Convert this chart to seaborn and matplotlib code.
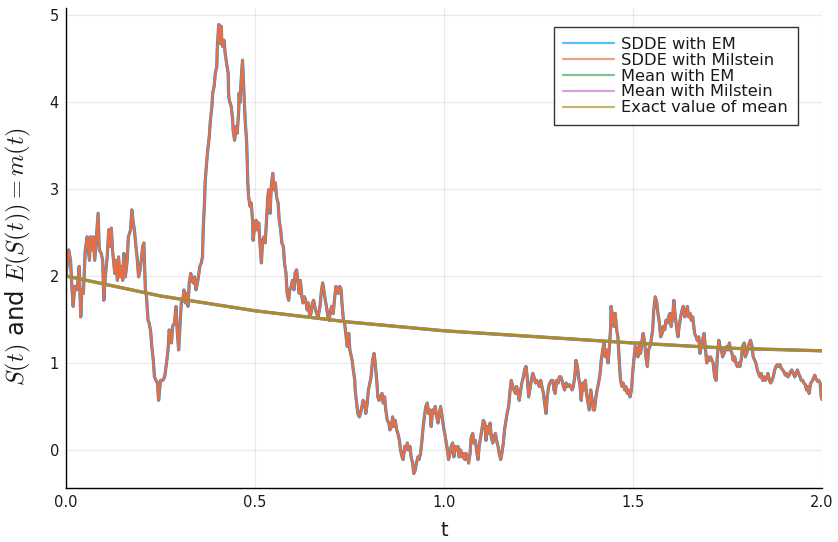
import matplotlib
matplotlib.use("Agg")
import matplotlib.pyplot as plt
import pandas as pd
import seaborn as sns

# Sample path of S(t), read in six consecutive time windows
t_seg1 = [0.000, 0.007, 0.012, 0.016, 0.019, 0.023, 0.028, 0.032, 0.035, 0.039,
          0.042, 0.046, 0.051, 0.056, 0.062, 0.065, 0.069, 0.072, 0.076, 0.081,
          0.085, 0.088, 0.093, 0.097, 0.100, 0.104, 0.109, 0.113, 0.116, 0.120,
          0.123, 0.129, 0.132, 0.136, 0.139, 0.143, 0.146, 0.150, 0.153, 0.157,
          0.162, 0.165, 0.171, 0.174, 0.178, 0.181, 0.185, 0.188, 0.192, 0.196,
          0.199, 0.203, 0.206, 0.210, 0.213, 0.217, 0.220, 0.224, 0.227, 0.231,
          0.234, 0.238, 0.242, 0.245, 0.250, 0.256, 0.261, 0.266, 0.270, 0.273,
          0.279, 0.282, 0.287, 0.291, 0.294, 0.298, 0.302, 0.305, 0.309, 0.312,
          0.316, 0.319, 0.323, 0.326, 0.330, 0.333, 0.337, 0.340, 0.344, 0.349]
s_seg1 = [2.00, 2.30, 2.18, 1.84, 1.65, 1.88, 1.84, 1.95, 2.11, 1.53,
          1.84, 1.80, 2.30, 2.45, 2.18, 2.45, 2.30, 2.45, 2.18, 2.49,
          2.72, 2.30, 2.26, 2.18, 1.72, 1.99, 2.22, 2.53, 2.34, 2.55,
          2.30, 2.03, 2.18, 1.95, 2.22, 1.99, 2.11, 1.95, 2.26, 1.99,
          2.18, 2.45, 2.53, 2.76, 2.61, 2.53, 2.34, 2.22, 1.99, 2.07,
          2.18, 2.34, 2.38, 1.84, 1.76, 1.49, 1.46, 1.36, 1.19, 1.03,
          0.84, 0.80, 0.77, 0.57, 0.80, 0.80, 0.84, 1.00, 1.15, 1.38,
          1.23, 1.42, 1.46, 1.65, 1.38, 1.15, 1.46, 1.69, 1.72, 1.84,
          1.69, 1.80, 1.65, 1.92, 2.03, 1.95, 1.92, 1.99, 1.84, 1.95]

t_seg2 = [0.354, 0.358, 0.361, 0.363, 0.367, 0.368, 0.372, 0.375, 0.379, 0.382,
          0.386, 0.388, 0.392, 0.395, 0.399, 0.400, 0.402, 0.404, 0.407, 0.409,
          0.411, 0.412, 0.414, 0.418, 0.421, 0.425, 0.429, 0.430, 0.432, 0.437,
          0.441, 0.442, 0.446, 0.450, 0.453, 0.457, 0.458, 0.460, 0.464, 0.467,
          0.471, 0.474, 0.478, 0.481, 0.483, 0.487, 0.490, 0.494, 0.495, 0.499,
          0.503, 0.506, 0.510, 0.513, 0.517, 0.520, 0.524, 0.527, 0.531, 0.534,
          0.536, 0.540, 0.543, 0.547, 0.550, 0.554, 0.557, 0.561, 0.564, 0.568,
          0.571, 0.575, 0.578, 0.582, 0.585, 0.589, 0.592, 0.596, 0.599, 0.603,
          0.606, 0.610, 0.613, 0.617, 0.620, 0.624, 0.627, 0.631, 0.634, 0.638,
          0.641, 0.645, 0.648, 0.652, 0.655, 0.660, 0.663, 0.667]
s_seg2 = [2.11, 2.15, 2.22, 2.53, 2.91, 3.07, 3.30, 3.45, 3.60, 3.79,
          3.95, 4.10, 4.18, 4.33, 4.41, 4.60, 4.75, 4.89, 4.87, 4.67,
          4.87, 4.71, 4.64, 4.71, 4.56, 4.44, 4.33, 4.10, 4.02, 3.95,
          3.79, 3.68, 3.56, 3.72, 3.64, 3.91, 4.10, 3.99, 4.29, 4.48,
          4.10, 3.79, 3.53, 3.07, 2.91, 2.80, 2.84, 2.61, 2.41, 2.57,
          2.64, 2.53, 2.61, 2.38, 2.15, 2.41, 2.45, 2.38, 2.68, 2.91,
          2.99, 2.72, 3.03, 3.18, 2.99, 3.07, 2.91, 2.84, 2.64, 2.53,
          2.38, 2.34, 2.15, 2.03, 1.80, 1.72, 1.84, 1.88, 1.95, 1.84,
          2.03, 2.07, 1.95, 1.80, 1.95, 1.76, 1.69, 1.76, 1.72, 1.61,
          1.69, 1.53, 1.57, 1.69, 1.72, 1.61, 1.57, 1.53]

t_seg3 = [0.672, 0.675, 0.679, 0.682, 0.686, 0.689, 0.693, 0.696, 0.700, 0.703,
          0.707, 0.710, 0.714, 0.717, 0.721, 0.724, 0.728, 0.730, 0.734, 0.737,
          0.741, 0.744, 0.748, 0.751, 0.753, 0.757, 0.760, 0.764, 0.765, 0.769,
          0.772, 0.776, 0.779, 0.783, 0.786, 0.790, 0.793, 0.797, 0.800, 0.804,
          0.807, 0.811, 0.815, 0.818, 0.822, 0.825, 0.828, 0.832, 0.836, 0.839,
          0.843, 0.846, 0.850, 0.854, 0.857, 0.861, 0.864, 0.868, 0.871, 0.875,
          0.878, 0.882, 0.885, 0.889, 0.892, 0.896, 0.899, 0.903, 0.906, 0.910,
          0.913, 0.917, 0.920, 0.924, 0.927, 0.931, 0.934, 0.938, 0.941, 0.945,
          0.948, 0.952, 0.956, 0.959, 0.963, 0.966, 0.970, 0.973, 0.977, 0.981,
          0.984, 0.988, 0.991, 0.995, 1.000]
s_seg3 = [1.65, 1.80, 1.92, 1.84, 1.72, 1.65, 1.53, 1.49, 1.61, 1.65,
          1.57, 1.72, 1.88, 1.84, 1.80, 1.88, 1.84, 1.69, 1.49, 1.46,
          1.30, 1.19, 1.34, 1.15, 1.11, 1.03, 0.92, 0.80, 0.69, 0.54,
          0.42, 0.38, 0.42, 0.50, 0.57, 0.54, 0.42, 0.54, 0.69, 0.77,
          0.84, 1.03, 1.11, 1.00, 0.80, 0.61, 0.57, 0.61, 0.65, 0.54,
          0.61, 0.46, 0.34, 0.31, 0.23, 0.27, 0.38, 0.27, 0.34, 0.23,
          0.19, 0.11, 0.00, -0.08, -0.11, 0.04, 0.00, 0.08, 0.00, 0.04,
          -0.08, -0.15, -0.27, -0.23, -0.15, -0.08, -0.11, -0.04, 0.08, 0.27,
          0.38, 0.50, 0.54, 0.42, 0.46, 0.27, 0.46, 0.42, 0.50, 0.38,
          0.31, 0.42, 0.50, 0.38, 0.23]

t_seg4 = [1.002, 1.005, 1.009, 1.012, 1.016, 1.019, 1.023, 1.026, 1.030, 1.034,
          1.037, 1.040, 1.044, 1.048, 1.051, 1.055, 1.058, 1.062, 1.065, 1.069,
          1.072, 1.076, 1.079, 1.083, 1.086, 1.090, 1.093, 1.097, 1.100, 1.104,
          1.108, 1.111, 1.115, 1.118, 1.122, 1.125, 1.129, 1.132, 1.136, 1.139,
          1.143, 1.146, 1.150, 1.153, 1.157, 1.160, 1.164, 1.167, 1.171, 1.175,
          1.178, 1.182, 1.185, 1.189, 1.192, 1.196, 1.199, 1.203, 1.206, 1.210,
          1.213, 1.217, 1.220, 1.224, 1.227, 1.231, 1.235, 1.238, 1.242, 1.245,
          1.249, 1.252, 1.256, 1.259, 1.263, 1.266, 1.270, 1.273, 1.277, 1.280,
          1.284, 1.288, 1.291, 1.294, 1.298, 1.302, 1.305, 1.309, 1.312, 1.316,
          1.319, 1.323, 1.328]
s_seg4 = [0.19, 0.11, 0.00, -0.11, -0.04, 0.04, 0.08, -0.08, 0.04, 0.00,
          0.04, -0.08, 0.00, -0.08, -0.04, -0.11, -0.04, -0.08, -0.15, -0.04,
          0.15, 0.19, 0.08, 0.11, 0.00, -0.11, 0.04, 0.15, 0.23, 0.34,
          0.31, 0.11, 0.27, 0.19, 0.31, 0.15, 0.08, 0.15, 0.19, 0.11,
          0.04, -0.04, -0.11, -0.04, 0.08, 0.23, 0.34, 0.42, 0.50, 0.69,
          0.80, 0.73, 0.69, 0.65, 0.73, 0.65, 0.57, 0.69, 0.77, 0.84,
          0.92, 0.96, 0.84, 0.61, 0.69, 0.80, 0.88, 0.84, 0.77, 0.80,
          0.77, 0.73, 0.80, 0.73, 0.65, 0.54, 0.42, 0.61, 0.73, 0.77,
          0.80, 0.80, 0.69, 0.65, 0.80, 0.77, 0.84, 0.84, 0.80, 0.73,
          0.69, 0.77, 0.73]

t_seg5 = [1.332, 1.335, 1.339, 1.342, 1.346, 1.349, 1.353, 1.356, 1.360, 1.363,
          1.367, 1.370, 1.374, 1.377, 1.381, 1.384, 1.388, 1.391, 1.395, 1.398,
          1.402, 1.405, 1.409, 1.413, 1.416, 1.420, 1.423, 1.427, 1.430, 1.434,
          1.437, 1.441, 1.442, 1.446, 1.450, 1.453, 1.457, 1.460, 1.464, 1.467,
          1.471, 1.474, 1.478, 1.481, 1.485, 1.488, 1.492, 1.496, 1.499, 1.503,
          1.506, 1.510, 1.513, 1.517, 1.520, 1.524, 1.527, 1.531, 1.534, 1.538,
          1.541, 1.545, 1.548, 1.552, 1.555, 1.559, 1.563, 1.566, 1.570, 1.573,
          1.577, 1.580, 1.584, 1.587, 1.591, 1.594, 1.598, 1.601, 1.605, 1.608,
          1.612, 1.615, 1.619, 1.622, 1.626, 1.630, 1.633, 1.637, 1.640, 1.644,
          1.647, 1.651, 1.654, 1.658, 1.661]
s_seg5 = [0.75, 0.73, 0.69, 0.73, 0.84, 1.03, 0.96, 0.84, 0.73, 0.57,
          0.77, 0.69, 0.80, 0.65, 0.54, 0.46, 0.69, 0.61, 0.46, 0.46,
          0.61, 0.69, 0.77, 0.88, 1.03, 1.15, 1.23, 1.07, 1.15, 1.00,
          1.15, 1.42, 1.65, 1.53, 1.42, 1.57, 1.38, 1.30, 1.00, 0.80,
          0.73, 0.77, 0.69, 0.73, 0.65, 0.69, 0.61, 0.69, 0.88, 1.07,
          1.19, 1.15, 1.07, 1.23, 1.11, 1.26, 1.34, 1.23, 1.07, 0.96,
          1.15, 1.19, 1.26, 1.38, 1.61, 1.76, 1.69, 1.57, 1.46, 1.30,
          1.34, 1.42, 1.38, 1.49, 1.46, 1.53, 1.57, 1.42, 1.53, 1.72,
          1.53, 1.42, 1.30, 1.42, 1.53, 1.61, 1.65, 1.53, 1.57, 1.65,
          1.53, 1.57, 1.49, 1.53, 1.42]

t_seg6 = [1.663, 1.667, 1.670, 1.674, 1.677, 1.681, 1.684, 1.688, 1.691, 1.695,
          1.698, 1.702, 1.705, 1.709, 1.712, 1.716, 1.720, 1.723, 1.727, 1.730,
          1.734, 1.737, 1.741, 1.744, 1.748, 1.751, 1.755, 1.758, 1.762, 1.765,
          1.769, 1.772, 1.776, 1.779, 1.783, 1.786, 1.790, 1.794, 1.797, 1.801,
          1.804, 1.808, 1.811, 1.815, 1.818, 1.822, 1.825, 1.829, 1.832, 1.836,
          1.839, 1.843, 1.847, 1.850, 1.854, 1.857, 1.861, 1.864, 1.868, 1.871,
          1.875, 1.878, 1.882, 1.885, 1.889, 1.892, 1.896, 1.899, 1.903, 1.906,
          1.910, 1.913, 1.917, 1.920, 1.924, 1.928, 1.931, 1.935, 1.938, 1.942,
          1.945, 1.949, 1.952, 1.956, 1.959, 1.963, 1.966, 1.970, 1.974, 1.977,
          1.981, 1.984, 1.988, 1.991, 1.995, 1.998, 2.000]
s_seg6 = [1.34, 1.30, 1.26, 1.30, 1.11, 1.19, 1.26, 1.34, 1.19, 1.00,
          1.07, 1.03, 1.07, 1.03, 1.00, 0.84, 0.80, 1.07, 1.26, 1.19,
          1.15, 1.07, 1.11, 1.15, 1.19, 1.15, 1.23, 1.15, 1.11, 1.03,
          1.07, 1.00, 0.96, 1.00, 0.96, 1.03, 1.19, 1.23, 1.07, 1.11,
          1.19, 1.23, 1.26, 1.19, 1.07, 1.03, 1.00, 0.92, 0.88, 0.84,
          0.88, 0.80, 0.84, 0.80, 0.84, 0.88, 0.80, 0.77, 0.80, 0.84,
          0.92, 0.96, 0.98, 0.96, 0.98, 0.94, 0.92, 0.90, 0.86, 0.88,
          0.84, 0.86, 0.90, 0.92, 0.88, 0.84, 0.88, 0.92, 0.88, 0.84,
          0.80, 0.80, 0.77, 0.75, 0.69, 0.73, 0.65, 0.77, 0.79, 0.82,
          0.86, 0.82, 0.79, 0.80, 0.77, 0.61, 0.58]

# Mean m(t) = E(S(t))
t_mean = [0.00, 0.25, 0.50, 0.75, 1.00, 1.25, 1.50, 1.75, 2.00]
m_exact = [2.00, 1.77, 1.60, 1.47, 1.37, 1.30, 1.23, 1.17, 1.14]

x_ticks = [0.0, 0.5, 1.0, 1.5, 2.0]
y_ticks = [0, 1, 2, 3, 4, 5]

t_path = t_seg1 + t_seg2 + t_seg3 + t_seg4 + t_seg5 + t_seg6
s_path = s_seg1 + s_seg2 + s_seg3 + s_seg4 + s_seg5 + s_seg6
path_df = pd.DataFrame(list(zip(t_path, s_path)), columns=["t", "S"])
mean_df = pd.DataFrame({"t": t_mean, "m": m_exact})

sns.set_theme(style="white")
plt.rcParams["font.family"] = ["DejaVu Sans"]
plt.rcParams["mathtext.fontset"] = "cm"

fig = plt.figure(figsize=(8.38, 5.42), dpi=100)
ax = fig.add_axes([66 / 838, 54 / 542, 756 / 838, 480 / 542])

common = dict(ax=ax, estimator=None, sort=False)
sns.lineplot(data=path_df, x="t", y="S", color="#009AFA", lw=2.3,
             label="SDDE with EM", **common)
sns.lineplot(data=path_df, x="t", y="S", color="#E36F47", lw=1.8,
             label="SDDE with Milstein", **common)
sns.lineplot(data=mean_df, x="t", y="m", color="#3EA44E", lw=2.4,
             label="Mean with EM", **common)
sns.lineplot(data=mean_df, x="t", y="m", color="#C371D2", lw=2.2,
             label="Mean with Milstein", **common)
sns.lineplot(data=mean_df, x="t", y="m", color="#AC8E18", lw=1.8,
             label="Exact value of mean", **common)

ax.set_xlim(0, 2)
ax.set_ylim(-0.437, 5.08)
ax.set_xticks(x_ticks)
ax.set_xticklabels([f"{v:.1f}" for v in x_ticks])
ax.set_yticks(y_ticks)
ax.set_yticklabels([str(v) for v in y_ticks])

ax.grid(True, color="black", alpha=0.08, lw=0.9)
for side in ("top", "right"):
    ax.spines[side].set_visible(False)
for side in ("left", "bottom"):
    ax.spines[side].set_color("black")
    ax.spines[side].set_linewidth(1.0)
ax.tick_params(axis="both", direction="in", length=4, width=0.9,
               colors="black", labelsize=10.5, labelcolor="#1a1a1a", pad=5)

ax.set_xlabel("t", fontsize=14, color="#1a1a1a", labelpad=8)
ax.set_ylabel(r"$S(t)$ and $E(S(t)) = m(t)$", fontsize=17.5, color="#1a1a1a")
ax.yaxis.set_label_coords(-0.043, 0.483)

leg = ax.legend(loc="upper right", bbox_to_anchor=(0.968, 0.960),
                borderaxespad=0, frameon=True, fancybox=False,
                edgecolor="black", fontsize=11.7, handlelength=3.14,
                handletextpad=0.43, labelspacing=0.05, borderpad=0.6)
leg.get_frame().set_linewidth(1.0)
for line in leg.get_lines():
    line.set_linewidth(1.6)
    line.set_alpha(0.65)
for txt in leg.get_texts():
    txt.set_color("#1a1a1a")

fig.savefig("out.png", dpi=100, facecolor="white")
